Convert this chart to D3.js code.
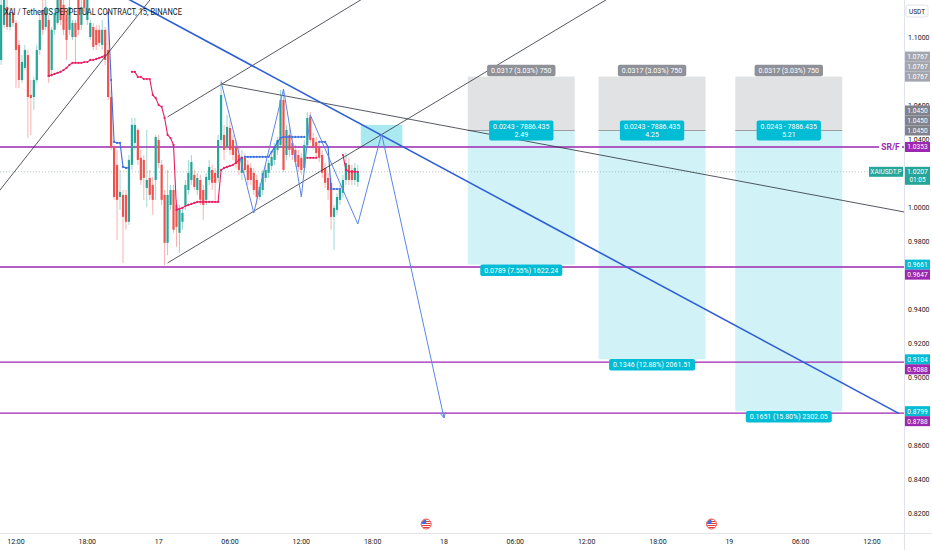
<!DOCTYPE html>
<html lang="en">
<head>
<meta charset="UTF-8">
<title>XAIUSDT.P 15</title>
<script src="https://d3js.org/d3.v7.min.js"></script>
<style>
body{margin:0;background:#fff;}
svg{display:block;font-family:Roboto,"Noto Sans",sans-serif;}
</style>
</head>
<body>
<script>
var W = 932, H = 550, plotR = 904, plotB = 533;

// 15 minute bars, first one at 10:45 on the 16th
var firstBar = "2024-02-16T10:45:00Z";
// [open, high, low, close]
var candles = [
 [1.0865,1.1265,1.0836,1.1189],[1.1071,1.1277,1.1053,1.1218],[1.1177,1.1218,1.1042,1.1059],[1.1059,1.1171,1.1042,1.1142],[1.1142,1.1171,1.1059,1.1083],
 [1.1083,1.1100,1.0700,1.0924],[1.0953,1.0983,1.0700,1.0747],[1.0747,1.0894,1.0730,1.0853],[1.0818,1.0953,1.0806,1.0924],[1.0894,1.0924,1.0406,1.0647],
 [1.0659,1.0747,1.0424,1.0641],[1.0647,1.0765,1.0571,1.0747],[1.0747,1.0953,1.0730,1.0924],[1.0924,1.1130,1.0894,1.1100],[1.1159,1.1247,1.1012,1.1042],
 [1.1059,1.1265,1.1042,1.1177],[1.1100,1.1130,1.0730,1.0765],[1.0806,1.1059,1.0765,1.1042],[1.1042,1.1171,1.1012,1.1142],[1.1083,1.1277,1.1071,1.1218],
 [1.1218,1.1277,1.1071,1.1100],[1.1189,1.1218,1.1012,1.1042],[1.1130,1.1159,1.0865,1.0983],[1.1042,1.1218,1.1012,1.1177],[1.1000,1.1100,1.0983,1.1083],
 [1.1083,1.1100,1.0853,1.1000],[1.1218,1.1247,1.1012,1.1042],[1.1071,1.1218,1.1042,1.1177],[1.1236,1.1277,1.1147,1.1171],[1.1100,1.1247,1.1071,1.1218],
 [1.1000,1.1100,1.0983,1.1083],[1.1059,1.1083,1.0924,1.0942],[1.1042,1.1071,1.0924,1.0953],[1.1042,1.1071,1.0942,1.0965],[1.0953,1.1100,1.0924,1.1042],
 [1.1042,1.1059,1.0836,1.0865],[1.0924,1.1100,1.0630,1.0647],[1.0647,1.0689,1.0336,1.0353],[1.0353,1.0365,1.0042,1.0059],[1.0248,1.0336,0.9807,1.0042],
 [1.0059,1.0218,0.9983,1.0089],[1.0071,1.0100,0.9671,0.9942],[1.0071,1.0100,0.9866,0.9913],[0.9913,1.0306,0.9895,1.0277],[1.0248,1.0524,1.0218,1.0483],
 [1.0377,1.0524,1.0336,1.0483],[1.0453,1.0465,1.0248,1.0277],[1.0289,1.0336,1.0130,1.0159],[1.0277,1.0306,1.0042,1.0171],[1.0112,1.0453,1.0000,1.0159],
 [1.0171,1.0218,1.0042,1.0071],[1.0130,1.0177,0.9954,1.0042],[1.0159,1.0424,1.0042,1.0412],[1.0394,1.0424,1.0230,1.0259],[1.0248,1.0277,1.0012,1.0042],
 [1.0071,1.0100,0.9659,0.9789],[0.9789,1.0218,0.9718,1.0071],[1.0012,1.0130,0.9983,1.0100],[1.0100,1.0130,0.9848,0.9866],[1.0012,1.0042,0.9766,0.9883],
 [0.9848,1.0012,0.9730,0.9983],[0.9913,0.9995,0.9866,0.9966],[1.0012,1.0159,0.9983,1.0130],[1.0100,1.0277,1.0071,1.0201],[1.0159,1.0306,1.0130,1.0265],
 [1.0189,1.0218,1.0100,1.0118],[1.0100,1.0201,1.0071,1.0171],[1.0159,1.0189,1.0012,1.0042],[1.0100,1.0130,0.9925,1.0012],[1.0042,1.0201,1.0012,1.0177],
 [1.0159,1.0277,1.0130,1.0236],[1.0218,1.0248,1.0100,1.0142],[1.0201,1.0230,1.0042,1.0142],[1.0171,1.0424,1.0142,1.0394],[1.0394,1.0747,1.0365,1.0659],
 [1.0424,1.0483,1.0277,1.0336],[1.0353,1.0542,1.0336,1.0471],[1.0465,1.0512,1.0306,1.0336],[1.0394,1.0424,1.0277,1.0306],[1.0347,1.0394,1.0230,1.0259],
 [1.0306,1.0347,1.0189,1.0218],[1.0201,1.0336,1.0159,1.0295],[1.0289,1.0318,1.0201,1.0218],[1.0248,1.0277,1.0130,1.0159],[1.0230,1.0259,1.0130,1.0159],
 [1.0201,1.0230,1.0071,1.0100],[1.0159,1.0189,1.0012,1.0059],[1.0059,1.0142,1.0042,1.0118],[1.0100,1.0218,1.0071,1.0201],[1.0171,1.0248,1.0148,1.0218],
 [1.0201,1.0277,1.0171,1.0259],[1.0242,1.0318,1.0218,1.0295],[1.0277,1.0377,1.0248,1.0353],[1.0336,1.0412,1.0306,1.0394],[1.0365,1.0689,1.0347,1.0630],
 [1.0630,1.0689,1.0207,1.0218],[1.0306,1.0483,1.0277,1.0453],[1.0424,1.0465,1.0295,1.0336],[1.0377,1.0406,1.0277,1.0306],[1.0336,1.0365,1.0236,1.0265],
 [1.0306,1.0336,1.0207,1.0236],[1.0289,1.0318,1.0189,1.0218],[1.0230,1.0394,1.0207,1.0365],[1.0365,1.0559,1.0347,1.0524],[1.0530,1.0559,1.0377,1.0394],
 [1.0406,1.0436,1.0336,1.0353],[1.0383,1.0412,1.0289,1.0318],[1.0347,1.0377,1.0265,1.0289],[1.0306,1.0336,1.0171,1.0201],[1.0230,1.0259,1.0112,1.0142],
 [1.0171,1.0201,1.0042,1.0100],[1.0142,1.0171,0.9866,0.9942],[0.9942,1.0012,0.9748,0.9995],[0.9983,1.0083,0.9954,1.0059],[1.0042,1.0130,1.0012,1.0100],
 [1.0083,1.0189,1.0054,1.0159],[1.0159,1.0318,1.0130,1.0259],[1.0248,1.0289,1.0130,1.0159],[1.0218,1.0248,1.0130,1.0159],[1.0159,1.0259,1.0130,1.0230],
 [1.0148,1.0248,1.0118,1.0207]
];

// stepped trailing indicator, split where it flips colour (start = bar index)
var indStart = [16, 36, 44, 82, 103, 107, 115];
var indColor = ["#e91e63", "#3a6fe0", "#e91e63", "#3a6fe0", "#e91e63", "#3a6fe0", "#e91e63"];
var indValues = [
 [1.0771,1.0777,1.0783,1.0789,1.0795,1.0806,1.0818,1.0836,1.0848,1.0848,1.0848,1.0848,1.0853,1.0853,1.0865,1.0865,1.0871,1.0877,1.0883,1.0894],
 [1.1142,1.0747,1.0383,1.0377,1.0377,1.0236,1.0230,1.0230],
 [1.0795,1.0795,1.0765,1.0765,1.0753,1.0753,1.0753,1.0659,1.0641,1.0600,1.0589,1.0524,1.0424,1.0406,1.0365,0.9983,0.9989,0.9995,1.0006,1.0012,1.0018,1.0024,
  1.0030,1.0030,1.0030,1.0030,1.0030,1.0030,1.0030,1.0030,1.0218,1.0230,1.0236,1.0242,1.0248,1.0259,1.0277,1.0289],
 [1.0295,1.0295,1.0295,1.0295,1.0295,1.0295,1.0295,1.0295,1.0295,1.0324,1.0353,1.0383,1.0406,1.0412,1.0412,1.0412,1.0412,1.0412,1.0412,1.0412,1.0412],
 [1.0289,1.0289,1.0289,1.0289],
 [1.0383,1.0383,1.0383,1.0353,1.0106,1.0106,1.0106,1.0106],
 [1.0306,1.0218,1.0207,1.0207,1.0207,1.0207]
];

// thin black trend lines [time1, price1, time2, price2]
var blackLines = [
 ["2024-02-16T10:00:00Z", 1.0042, "2024-02-17T00:00:00Z", 1.1283],
 ["2024-02-17T00:45:00Z", 1.0530, "2024-02-17T17:15:00Z", 1.1229],
 ["2024-02-17T00:45:00Z", 0.9671, "2024-02-18T14:00:00Z", 1.1234],
 ["2024-02-17T05:15:00Z", 1.0724, "2024-02-19T15:00:00Z", 0.9967]
];
var blueLine = ["2024-02-16T21:00:00Z", 1.1240, "2024-02-19T14:15:00Z", 0.8786];

// projected zigzag path
var pathTimes = ["2024-02-17T05:15:00Z","2024-02-17T08:00:00Z","2024-02-17T10:30:00Z","2024-02-17T12:00:00Z",
                 "2024-02-17T12:45:00Z","2024-02-17T16:45:00Z","2024-02-17T18:45:00Z","2024-02-18T00:00:00Z"];
var pathPrices = [1.0736, 0.9965, 1.0694, 1.0059, 1.0542, 0.9900, 1.0430, 0.8759];

// zone
var zoneTimes = ["2024-02-17T17:00:00Z", "2024-02-17T20:30:00Z"];
var zonePrices = [1.0483, 1.0353];

// horizontal levels
var levels = [1.0353, 0.9647, 0.9088, 0.8788];

// short position tools
var posStart = ["2024-02-18T02:00:00Z", "2024-02-18T13:00:00Z", "2024-02-19T00:30:00Z"];
var posEnd = ["2024-02-18T11:00:00Z", "2024-02-18T22:00:00Z", "2024-02-19T09:30:00Z"];
var posEntry = 1.0450, posStop = 1.0767;
var posTarget = [0.9661, 0.9104, 0.8799];
var posRiskText = "0.0317 (3.03%) 750";
var posQtyText = "0.0243 - 7886.435";
var posRatio = ["2.49", "4.25", "5.21"];
var posRewardText = ["0.0789 (7.55%) 1622.24", "0.1346 (12.88%) 2061.51", "0.1651 (15.80%) 2302.05"];

var lastPrice = 1.0207, countdown = "01:05";
var eventTimes = ["2024-02-17T22:30:00Z", "2024-02-18T22:30:00Z"];

// labels on the price scale
var tagPrices = [1.0767, 1.0767, 1.0767, 1.0450, 1.0450, 1.0450, 1.0353, 0.9661, 0.9647, 0.9104, 0.9088, 0.8799, 0.8788];
var tagColors = ["#a3a6ae","#a3a6ae","#a3a6ae","#7f828b","#7f828b","#7f828b","#9c27b0","#00bcd4","#9c27b0","#00bcd4","#9c27b0","#00bcd4","#9c27b0"];

var P = d3.isoParse;
var x = d3.scaleUtc().domain([P("2024-02-16T12:00:00Z"), P("2024-02-19T12:00:00Z")]).range([16, 872]);
var y = d3.scaleLinear().domain([1.0, 1.1]).range([207, 37]);

var svg = d3.select("body").append("svg").attr("width", W).attr("height", H);
svg.append("rect").attr("width", W).attr("height", H).attr("fill", "#fff");
var defs = svg.append("defs");
defs.append("clipPath").attr("id", "plot").append("rect").attr("width", plotR).attr("height", plotB);
var plot = svg.append("g").attr("clip-path", "url(#plot)");

function tag(g, cx, cy, lines, bg, fs) {
  var lh = fs + 1.5, grp = g.append("g");
  var texts = lines.map(function(s, k) {
    return grp.append("text").attr("x", cx).attr("y", cy - (lines.length - 1) * lh / 2 + k * lh + fs * 0.36)
      .attr("text-anchor", "middle").attr("font-size", fs).attr("fill", "#fff").text(s);
  });
  var w = d3.max(texts, function(t) { return t.node().getComputedTextLength(); }) + 8;
  var h = lines.length * lh + 3;
  grp.insert("rect", "text").attr("x", cx - w / 2).attr("y", cy - h / 2).attr("width", w).attr("height", h).attr("rx", 2).attr("fill", bg);
}

// position boxes
posTarget.forEach(function(tp, i) {
  var x1 = x(P(posStart[i])), x2 = x(P(posEnd[i]));
  plot.append("rect").attr("x", x1).attr("y", y(posStop)).attr("width", x2 - x1).attr("height", y(posEntry) - y(posStop))
    .attr("fill", "rgba(120,123,134,0.22)");
  plot.append("rect").attr("x", x1).attr("y", y(posEntry)).attr("width", x2 - x1).attr("height", y(tp) - y(posEntry))
    .attr("fill", "rgba(0,188,212,0.18)");
  plot.append("line").attr("x1", x1).attr("x2", x2).attr("y1", y(posEntry)).attr("y2", y(posEntry))
    .attr("stroke", "#9e9e9e").attr("stroke-width", 1);
});

// zone
plot.append("rect").attr("x", x(P(zoneTimes[0]))).attr("y", y(zonePrices[0]))
  .attr("width", x(P(zoneTimes[1])) - x(P(zoneTimes[0]))).attr("height", y(zonePrices[1]) - y(zonePrices[0]))
  .attr("fill", "rgba(0,188,212,0.33)");

// last price line
plot.append("line").attr("x1", 0).attr("x2", plotR).attr("y1", y(lastPrice)).attr("y2", y(lastPrice))
  .attr("stroke", "#9fb5b2").attr("stroke-width", 0.8).attr("stroke-dasharray", "1 2");

// levels
plot.selectAll(".lvl").data(levels).enter().append("line")
  .attr("x1", 0).attr("x2", plotR).attr("y1", function(d) { return y(d); }).attr("y2", function(d) { return y(d); })
  .attr("stroke", "#9c27b0").attr("stroke-width", 1.3);

// candles
var t0 = P(firstBar);
function barTime(i) { return new Date(+t0 + i * 900000); }
var bars = candles.map(function(d, i) { return {t: barTime(i), o: d[0], h: d[1], l: d[2], c: d[3]}; });
var cg = plot.append("g");
bars.forEach(function(b) {
  var col = b.c >= b.o ? "#26a69a" : "#ef5350", cx = x(b.t);
  cg.append("line").attr("x1", cx).attr("x2", cx).attr("y1", y(b.h)).attr("y2", y(b.l))
    .attr("stroke", col).attr("stroke-opacity", 0.5).attr("stroke-width", 0.9);
  var top = y(Math.max(b.o, b.c)), bot = y(Math.min(b.o, b.c));
  cg.append("rect").attr("x", cx - 1.1).attr("y", top).attr("width", 2.2).attr("height", Math.max(1, bot - top)).attr("fill", col);
});

// indicator
var ig = plot.append("g");
indValues.forEach(function(vals, s) {
  var pts = vals.map(function(v, k) { return [x(barTime(indStart[s] + k)), y(v)]; });
  ig.append("path").attr("d", d3.line()(pts)).attr("fill", "none").attr("stroke", indColor[s]).attr("stroke-width", 1.1);
  pts.forEach(function(p) {
    ig.append("circle").attr("cx", p[0]).attr("cy", p[1]).attr("r", 1.1).attr("fill", indColor[s]);
  });
});

// trend lines
blackLines.forEach(function(l) {
  plot.append("line").attr("x1", x(P(l[0]))).attr("y1", y(l[1])).attr("x2", x(P(l[2]))).attr("y2", y(l[3]))
    .attr("stroke", "#2a2e39").attr("stroke-width", 0.8);
});
plot.append("line").attr("x1", x(P(blueLine[0]))).attr("y1", y(blueLine[1])).attr("x2", x(P(blueLine[2]))).attr("y2", y(blueLine[3]))
  .attr("stroke", "#2f5fd6").attr("stroke-width", 1.6);

// zigzag projection with arrow
var zz = pathTimes.map(function(t, i) { return [x(P(t)), y(pathPrices[i])]; });
plot.append("path").attr("d", d3.line()(zz)).attr("fill", "none").attr("stroke", "#5b86e5").attr("stroke-width", 1);
var e = zz[zz.length - 1], s0 = zz[zz.length - 2], ang = Math.atan2(e[1] - s0[1], e[0] - s0[0]);
[-0.45, 0.45].forEach(function(da) {
  plot.append("line").attr("x1", e[0]).attr("y1", e[1])
    .attr("x2", e[0] - 6 * Math.cos(ang + da)).attr("y2", e[1] - 6 * Math.sin(ang + da))
    .attr("stroke", "#5b86e5").attr("stroke-width", 1);
});

// position labels
var lg = svg.append("g");
posTarget.forEach(function(tp, i) {
  var cx = (x(P(posStart[i])) + x(P(posEnd[i]))) / 2;
  tag(lg, cx, y(posStop) - 6, [posRiskText], "#8f9199", 7);
  tag(lg, cx, y(posEntry), [posQtyText, posRatio[i]], "#00bcd4", 7);
  tag(lg, cx, y(tp) + 5.5, [posRewardText[i]], "#00bcd4", 7);
});

// SR/F label on level
var srY = y(levels[0]);
svg.append("rect").attr("x", 879).attr("y", srY - 5).attr("width", 23).attr("height", 10).attr("fill", "#fff");
svg.append("text").attr("x", 890.5).attr("y", srY + 3).attr("text-anchor", "middle").attr("font-size", 8.5)
  .attr("font-weight", "bold").attr("fill", "#9c27b0").text("SR/F");

// event flags
eventTimes.forEach(function(t, i) {
  var fx = x(P(t)), fy = 524;
  defs.append("clipPath").attr("id", "flag" + i).append("circle").attr("cx", fx).attr("cy", fy).attr("r", 4.5);
  var fg = svg.append("g").attr("clip-path", "url(#flag" + i + ")");
  for (var k = 0; k < 5; k++) {
    fg.append("rect").attr("x", fx - 5).attr("y", fy - 5 + k * 2).attr("width", 10).attr("height", 1).attr("fill", "#e53935");
  }
  fg.append("rect").attr("x", fx - 5).attr("y", fy - 5).attr("width", 5).attr("height", 5).attr("fill", "#3f6fd8");
  svg.append("circle").attr("cx", fx).attr("cy", fy).attr("r", 5).attr("fill", "none").attr("stroke", "#ef5350").attr("stroke-width", 1);
});

// title
svg.append("text").attr("x", 4).attr("y", 15).attr("font-size", 8.5).attr("fill", "#131722")
  .attr("textLength", 178).attr("lengthAdjust", "spacingAndGlyphs")
  .text("XAI / TetherUS PERPETUAL CONTRACT, 15, BINANCE");

// axes frame
svg.append("line").attr("x1", plotR + 0.5).attr("x2", plotR + 0.5).attr("y1", 0).attr("y2", H).attr("stroke", "#e0e3eb");
svg.append("line").attr("x1", 0).attr("x2", W).attr("y1", plotB + 0.5).attr("y2", plotB + 0.5).attr("stroke", "#e0e3eb");

// price scale tags (same prices stack upward, close prices stack downward)
var gap = 10;
var ty = tagPrices.map(function(p) { return y(p); });
for (var i = ty.length - 2; i >= 0; i--) if (tagPrices[i] === tagPrices[i + 1]) ty[i] = ty[i + 1] - gap;
for (var j = 1; j < ty.length; j++) if (tagPrices[j] !== tagPrices[j - 1] && ty[j] < ty[j - 1] + gap) ty[j] = ty[j - 1] + gap;
var ly = y(lastPrice);
var covered = ty.concat([ly, ly + 8]);

// price scale ticks, hidden where a tag sits on them
var pt = d3.range(0.82, 1.1001, 0.02).filter(function(d) {
  return !covered.some(function(c) { return Math.abs(c - y(d)) < 4.5; });
});
svg.selectAll(".pt").data(pt).enter().append("text")
  .attr("x", 908).attr("y", function(d) { return y(d) + 2.5; }).attr("font-size", 7).attr("fill", "#131722")
  .text(d3.format(".4f"));
svg.append("rect").attr("x", 906).attr("y", 5).attr("width", 22).attr("height", 12).attr("rx", 2)
  .attr("fill", "#fff").attr("stroke", "#e0e3eb");
svg.append("text").attr("x", 917).attr("y", 13.5).attr("text-anchor", "middle").attr("font-size", 6.5).attr("fill", "#131722").text("USDT");

tagPrices.forEach(function(p, i) {
  svg.append("rect").attr("x", plotR + 1).attr("y", ty[i] - gap / 2).attr("width", 25).attr("height", gap).attr("fill", tagColors[i]);
  svg.append("text").attr("x", plotR + 13.5).attr("y", ty[i] + 2.4).attr("text-anchor", "middle").attr("font-size", 6.6)
    .attr("fill", "#fff").text(d3.format(".4f")(p));
});

// last price
svg.append("rect").attr("x", 869).attr("y", ly - 5).attr("width", 34).attr("height", 10).attr("fill", "#26a69a");
svg.append("text").attr("x", 886).attr("y", ly + 2.3).attr("text-anchor", "middle").attr("font-size", 6.5).attr("fill", "#fff").text("XAIUSDT.P");
svg.append("rect").attr("x", plotR + 1).attr("y", ly - 5).attr("width", 25).attr("height", 18).attr("fill", "#26a69a");
svg.append("text").attr("x", plotR + 13.5).attr("y", ly + 2.3).attr("text-anchor", "middle").attr("font-size", 6.8).attr("fill", "#fff").text(d3.format(".4f")(lastPrice));
svg.append("text").attr("x", plotR + 13.5).attr("y", ly + 10.5).attr("text-anchor", "middle").attr("font-size", 6.5).attr("fill", "#fff").text(countdown);

// time scale
var tt = d3.utcHour.every(6).range(d3.utcHour.ceil(x.invert(0)), x.invert(plotR - 12));
var dayFmt = d3.utcFormat("%-d"), hourFmt = d3.utcFormat("%H:%M");
svg.selectAll(".tt").data(tt).enter().append("text")
  .attr("x", function(d) { return x(d); }).attr("y", 544).attr("text-anchor", "middle").attr("font-size", 7).attr("fill", "#131722")
  .text(function(d) { return d.getUTCHours() === 0 ? dayFmt(d) : hourFmt(d); });
</script>
</body>
</html>
